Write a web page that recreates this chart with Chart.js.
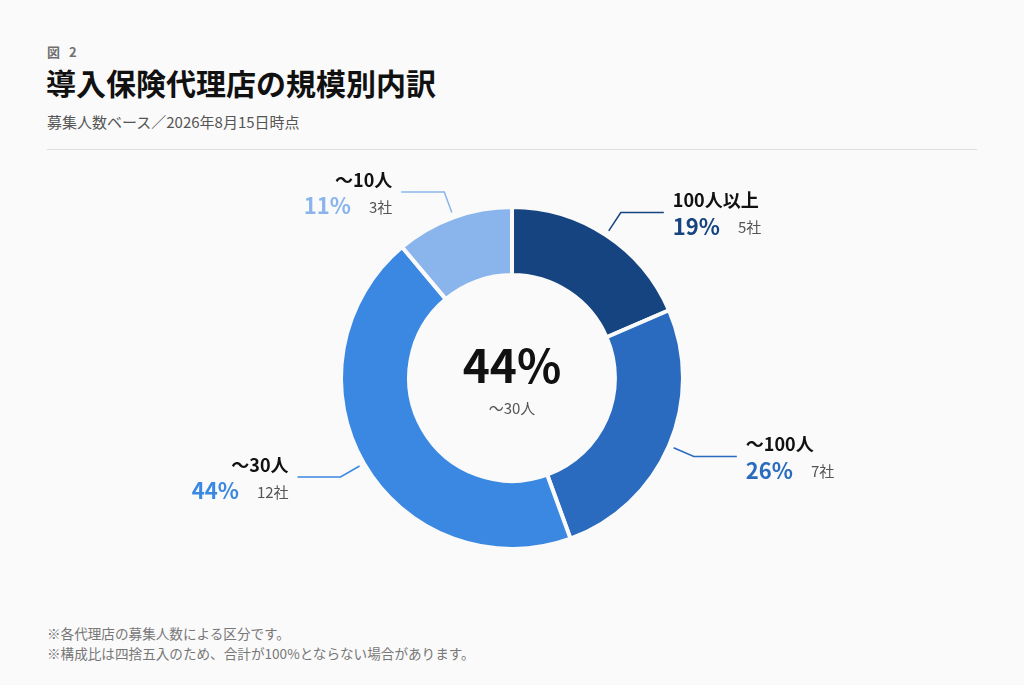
<!DOCTYPE html>
<html lang="ja">
<head>
<meta charset="utf-8">
<script src="https://cdn.jsdelivr.net/npm/chart.js@4.4.0/dist/chart.umd.min.js"></script>
<style>
  html, body { margin:0; padding:0; }
  body { width:1024px; height:685px; background:#fafafa; position:relative; overflow:hidden;
         font-family:"Noto Sans CJK JP","Noto Sans",sans-serif; }
  .abs { position:absolute; white-space:nowrap; }
  #fig { left:47px; top:44px; font-size:13px; line-height:16px; font-weight:700; color:#707070; letter-spacing:1px; }
  #title { left:46px; top:66px; font-size:30px; line-height:32px; font-weight:700; color:#111; }
  #sub { left:47px; top:113px; font-size:15px; line-height:18px; color:#555; }
  #rule { left:47px; top:149px; width:930px; height:1px; background:#dedede; }
  .note { left:47px; font-size:13.6px; line-height:16px; color:#777; }
  #wrap { left:0; top:158px; width:1024px; height:440px; }
</style>
</head>
<body>
<div class="abs" id="fig">図&nbsp;&nbsp;2</div>
<div class="abs" id="title">導入保険代理店の規模別内訳</div>
<div class="abs" id="sub">募集人数ベース／2026年8月15日時点</div>
<div class="abs" id="rule"></div>
<div class="abs" id="wrap"><canvas id="c" width="1024" height="440"></canvas></div>
<div class="abs note" style="top:625px">※各代理店の募集人数による区分です。</div>
<div class="abs note" style="top:645px">※構成比は四捨五入のため、合計が100%とならない場合があります。</div>
<script>
const categories = ["100人以上", "～100人", "～30人", "～10人"];
const companyCounts = [5, 7, 12, 3];
const countUnit = "社";
const segmentColors = ["#164480", "#2a6bbf", "#3a88e1", "#89b5ec"];
const BG = "#fafafa";

const total = companyCounts.reduce((a, b) => a + b, 0);
const pct = v => Math.round(v / total * 100) + "%";
const FONT = '"Noto Sans CJK JP","Noto Sans",sans-serif';

const labelPlugin = {
  id: "leaderLabels",
  afterDatasetsDraw(chart) {
    const ctx = chart.ctx;
    const meta = chart.getDatasetMeta(0);
    meta.data.forEach((arc, i) => {
      const p = arc.getProps(["x", "y", "startAngle", "endAngle", "outerRadius"], true);
      const mid = (p.startAngle + p.endAngle) / 2;
      const r1 = p.outerRadius + 5, r2 = p.outerRadius + 27;
      const x1 = p.x + Math.cos(mid) * r1, y1 = p.y + Math.sin(mid) * r1;
      const x2 = p.x + Math.cos(mid) * r2, y2 = p.y + Math.sin(mid) * r2;
      const right = Math.cos(mid) >= 0;
      const x3 = right ? x2 + 43 : x2 - 43;
      ctx.save();
      ctx.strokeStyle = segmentColors[i];
      ctx.lineWidth = 1.5;
      ctx.beginPath();
      ctx.moveTo(x1, y1); ctx.lineTo(x2, y2); ctx.lineTo(x3, y2);
      ctx.stroke();
      ctx.textBaseline = "middle";
      const tx = right ? x3 + 9 : x3 - 9;
      ctx.font = "700 18px " + FONT;
      ctx.fillStyle = "#111";
      ctx.textAlign = right ? "left" : "right";
      ctx.fillText(categories[i], tx, y2 - 12);
      const pctText = pct(companyCounts[i]);
      const cntText = companyCounts[i] + countUnit;
      ctx.font = "700 22px " + FONT;
      const pw = ctx.measureText(pctText).width;
      ctx.font = "400 15px " + FONT;
      const cw = ctx.measureText(cntText).width;
      const gap = 18;
      let px;
      if (right) { px = tx; } else { px = tx - cw - gap - pw; }
      ctx.textAlign = "left";
      ctx.font = "700 22px " + FONT;
      ctx.fillStyle = segmentColors[i];
      ctx.fillText(pctText, px, y2 + 14);
      ctx.font = "400 15px " + FONT;
      ctx.fillStyle = "#555";
      ctx.fillText(cntText, px + pw + gap, y2 + 15);
      ctx.restore();
    });
    // center
    const maxIdx = companyCounts.indexOf(Math.max(...companyCounts));
    const a0 = meta.data[0];
    ctx.save();
    ctx.textAlign = "center";
    ctx.textBaseline = "middle";
    ctx.fillStyle = "#111";
    ctx.font = "700 46px " + FONT;
    ctx.fillText(pct(companyCounts[maxIdx]), a0.x, a0.y - 12);
    ctx.fillStyle = "#555";
    ctx.font = "400 15px " + FONT;
    ctx.fillText(categories[maxIdx], a0.x, a0.y + 30);
    ctx.restore();
  }
};

new Chart(document.getElementById("c"), {
  type: "doughnut",
  data: {
    labels: categories,
    datasets: [{
      data: companyCounts,
      backgroundColor: segmentColors,
      borderColor: BG,
      borderWidth: 4,
      hoverOffset: 0
    }]
  },
  options: {
    responsive: false,
    animation: false,
    cutout: "60.2%",
    layout: { padding: { top: 47, bottom: 47, left: 0, right: 0 } },
    plugins: { legend: { display: false }, tooltip: { enabled: false } },
    events: []
  },
  plugins: [labelPlugin]
});
</script>
</body>
</html>
